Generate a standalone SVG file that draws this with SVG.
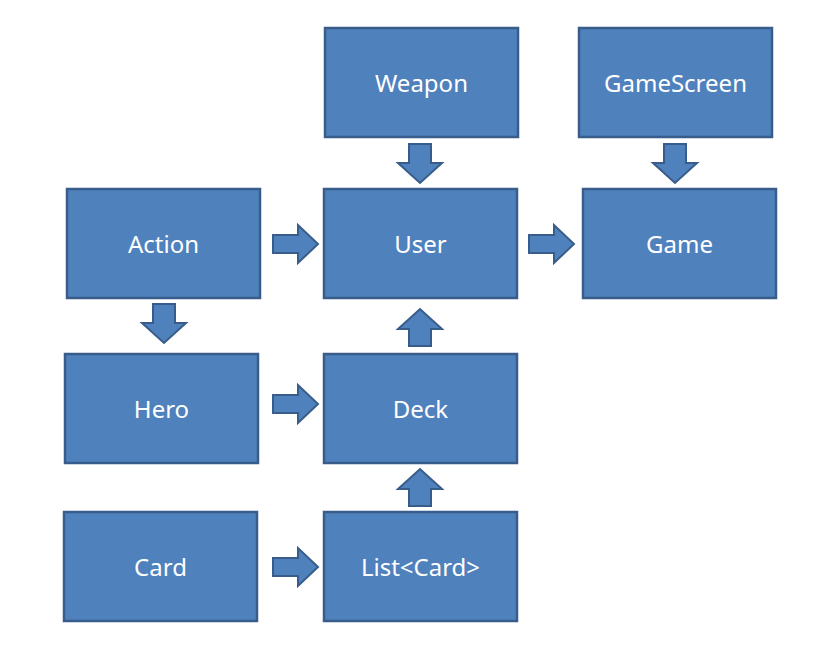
<svg xmlns="http://www.w3.org/2000/svg" width="838" height="657" viewBox="0 0 838 657">
<style>
.box{fill:#4F81BD;stroke:#385D8A;stroke-width:2.5}
.arr{fill:#4F81BD;stroke:#385D8A;stroke-width:2;stroke-linejoin:miter}
.lbl{fill:#FFFFFF;font-family:"Noto Sans","Open Sans",sans-serif;font-size:24px;text-anchor:middle}
</style>
<defs>
<path id="ar" d="M0,-9 H25 V-19 L45,0 L25,19 V9 H0 Z"/>
<path id="ad" d="M-11,0 H11 V19 H22 L0,39 L-22,19 H-11 Z"/>
<path id="au" d="M-11,0 H11 V-17 H22 L0,-37 L-22,-17 H-11 Z"/>
</defs>
<rect width="838" height="657" fill="#FFFFFF"/>
<g id="connectors">
<use href="#ad" class="arr" x="420" y="144"/>
<use href="#ad" class="arr" x="675" y="144"/>
<use href="#ar" class="arr" x="273" y="244"/>
<use href="#ar" class="arr" x="529" y="244"/>
<use href="#ad" class="arr" x="164" y="304"/>
<use href="#au" class="arr" x="420" y="346"/>
<use href="#ar" class="arr" x="273" y="404"/>
<use href="#au" class="arr" x="420" y="506"/>
<use href="#ar" class="arr" x="273" y="567"/>
</g>
<g id="weapon"><rect class="box" x="325" y="28" width="193" height="109"/><text class="lbl" x="421.5" y="92">Weapon</text></g>
<g id="gamescreen"><rect class="box" x="579" y="28" width="193" height="109"/><text class="lbl" x="675.5" y="92">GameScreen</text></g>
<g id="action"><rect class="box" x="67" y="189" width="193" height="109"/><text class="lbl" x="163.5" y="253">Action</text></g>
<g id="user"><rect class="box" x="324" y="189" width="193" height="109"/><text class="lbl" x="420.5" y="253">User</text></g>
<g id="game"><rect class="box" x="583" y="189" width="193" height="109"/><text class="lbl" x="679.5" y="253">Game</text></g>
<g id="hero"><rect class="box" x="65" y="354" width="193" height="109"/><text class="lbl" x="161.5" y="418">Hero</text></g>
<g id="deck"><rect class="box" x="324" y="354" width="193" height="109"/><text class="lbl" x="420.5" y="418">Deck</text></g>
<g id="card"><rect class="box" x="64" y="512" width="193" height="109"/><text class="lbl" x="160.5" y="576">Card</text></g>
<g id="listcard"><rect class="box" x="324" y="512" width="193" height="109"/><text class="lbl" x="420.5" y="576">List&lt;Card&gt;</text></g>
</svg>
